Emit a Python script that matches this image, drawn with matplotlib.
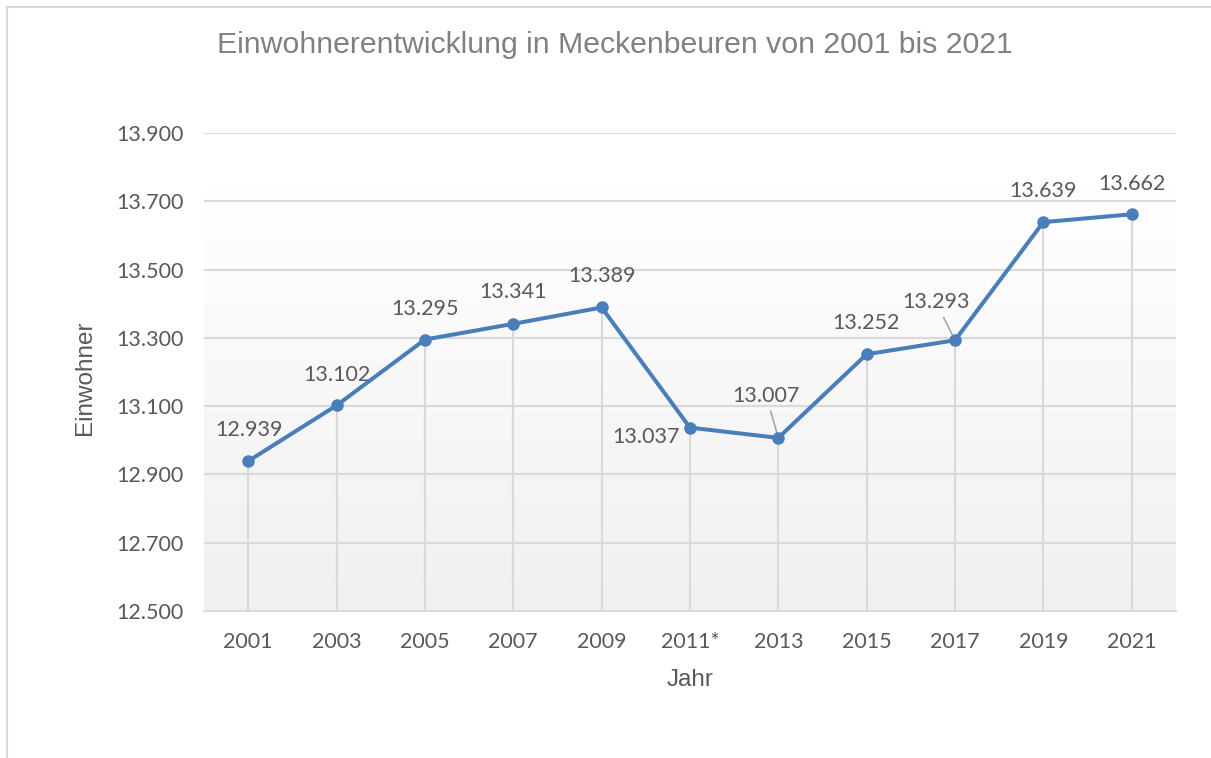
import numpy as np
import matplotlib
matplotlib.use("Agg")
import matplotlib.pyplot as plt
from matplotlib.lines import Line2D
from matplotlib.ticker import FuncFormatter

# data
jahre = ['2001', '2003', '2005', '2007', '2009', '2011*', '2013', '2015', '2017', '2019', '2021']
einwohner = [12939, 13102, 13295, 13341, 13389, 13037, 13007, 13252, 13293, 13639, 13662]
y_ticks = [12500, 12700, 12900, 13100, 13300, 13500, 13700, 13900]

# label offsets in pixels (dx, dy) and whether a leader line is drawn
label_offsets = [(1, 31), (0, 30), (0, 31), (0, 32), (0, 31), (-44, -9),
                 (-12, 42), (-1, 31), (-19, 38), (0, 31), (0, 30)]
leader = [False, False, False, False, False, True, True, False, True, False, False]

line_col = '#4a7ebb'
grid_col = '#d9d9d9'
tick_font = 'Lato'
arial = 'Liberation Sans'


def fmt_de(v, pos=None):
    return f'{int(round(v)):,}'.replace(',', '.')


fig = plt.figure(figsize=(12.11, 7.58), dpi=100)
ax = fig.add_axes([0.1685, 0.194, 0.8025, 0.6305])

x = np.arange(len(jahre))
ax.set_xlim(-0.5, len(jahre) - 0.5)
ax.set_ylim(12500, 13900)

# gradient background (white -> light gray)
grad = np.linspace(0, 1, 256).reshape(-1, 1)
ax.imshow(grad, cmap=matplotlib.colors.LinearSegmentedColormap.from_list('g', ['#ffffff', '#f0f0f0']),
          extent=[-0.5, len(jahre) - 0.5, 12500, 13740], aspect='auto', zorder=0, origin='upper')

for t in y_ticks[1:]:
    ax.axhline(t, color=grid_col, lw=1.5, zorder=1)

# drop lines
ax.vlines(x, 12500, einwohner, color=grid_col, lw=1.5, zorder=1)

for i, (xi, v) in enumerate(zip(x, einwohner)):
    dx, dy = label_offsets[i]
    ap = None
    if leader[i]:
        ap = dict(arrowstyle='-', color='#a6a6a6', lw=1.2, shrinkA=2, shrinkB=1)
    ax.annotate(fmt_de(v), (xi, v), xytext=(dx, dy), textcoords='offset pixels',
                ha='center', va='center', fontsize=15.5, family=tick_font, color='#595959',
                arrowprops=ap, zorder=2)

ax.plot(x, einwohner, '-o', color=line_col, lw=2.9, markersize=8, zorder=3,
        solid_joinstyle='round', solid_capstyle='round')

ax.set_xticks(x)
ax.set_xticklabels(jahre)
ax.set_yticks(y_ticks)
ax.yaxis.set_major_formatter(FuncFormatter(fmt_de))
ax.tick_params(length=0, labelsize=15.5, labelcolor='#595959', pad=15)
for lab in ax.get_xticklabels() + ax.get_yticklabels():
    lab.set_family(tick_font)

for s in ['top', 'right', 'left']:
    ax.spines[s].set_visible(False)
ax.spines['bottom'].set_color(grid_col)
ax.spines['bottom'].set_linewidth(1.5)
ax.spines['bottom'].set_zorder(2)

W, H = 1211, 758
fig.text(615 / W, 1 - 45 / H, 'Einwohnerentwicklung in Meckenbeuren von 2001 bis 2021',
         ha='center', va='center', fontsize=21.8, family=arial, color='#808080')
fig.text(690 / W, 1 - 680 / H, 'Jahr', ha='center', va='center', fontsize=17.5,
         family=arial, color='#595959')
fig.text(85 / W, 1 - 378 / H, 'Einwohner', ha='center', va='center', fontsize=17.5,
         family=arial, color='#595959', rotation=90)

# outer frame (top and left only)
fig.add_artist(Line2D([7 / W, 1], [1 - 7 / H, 1 - 7 / H], color=grid_col, lw=1.5,
                      transform=fig.transFigure))
fig.add_artist(Line2D([7 / W, 7 / W], [0, 1 - 7 / H], color=grid_col, lw=1.5,
                      transform=fig.transFigure))

fig.savefig('out.png', dpi=100)
